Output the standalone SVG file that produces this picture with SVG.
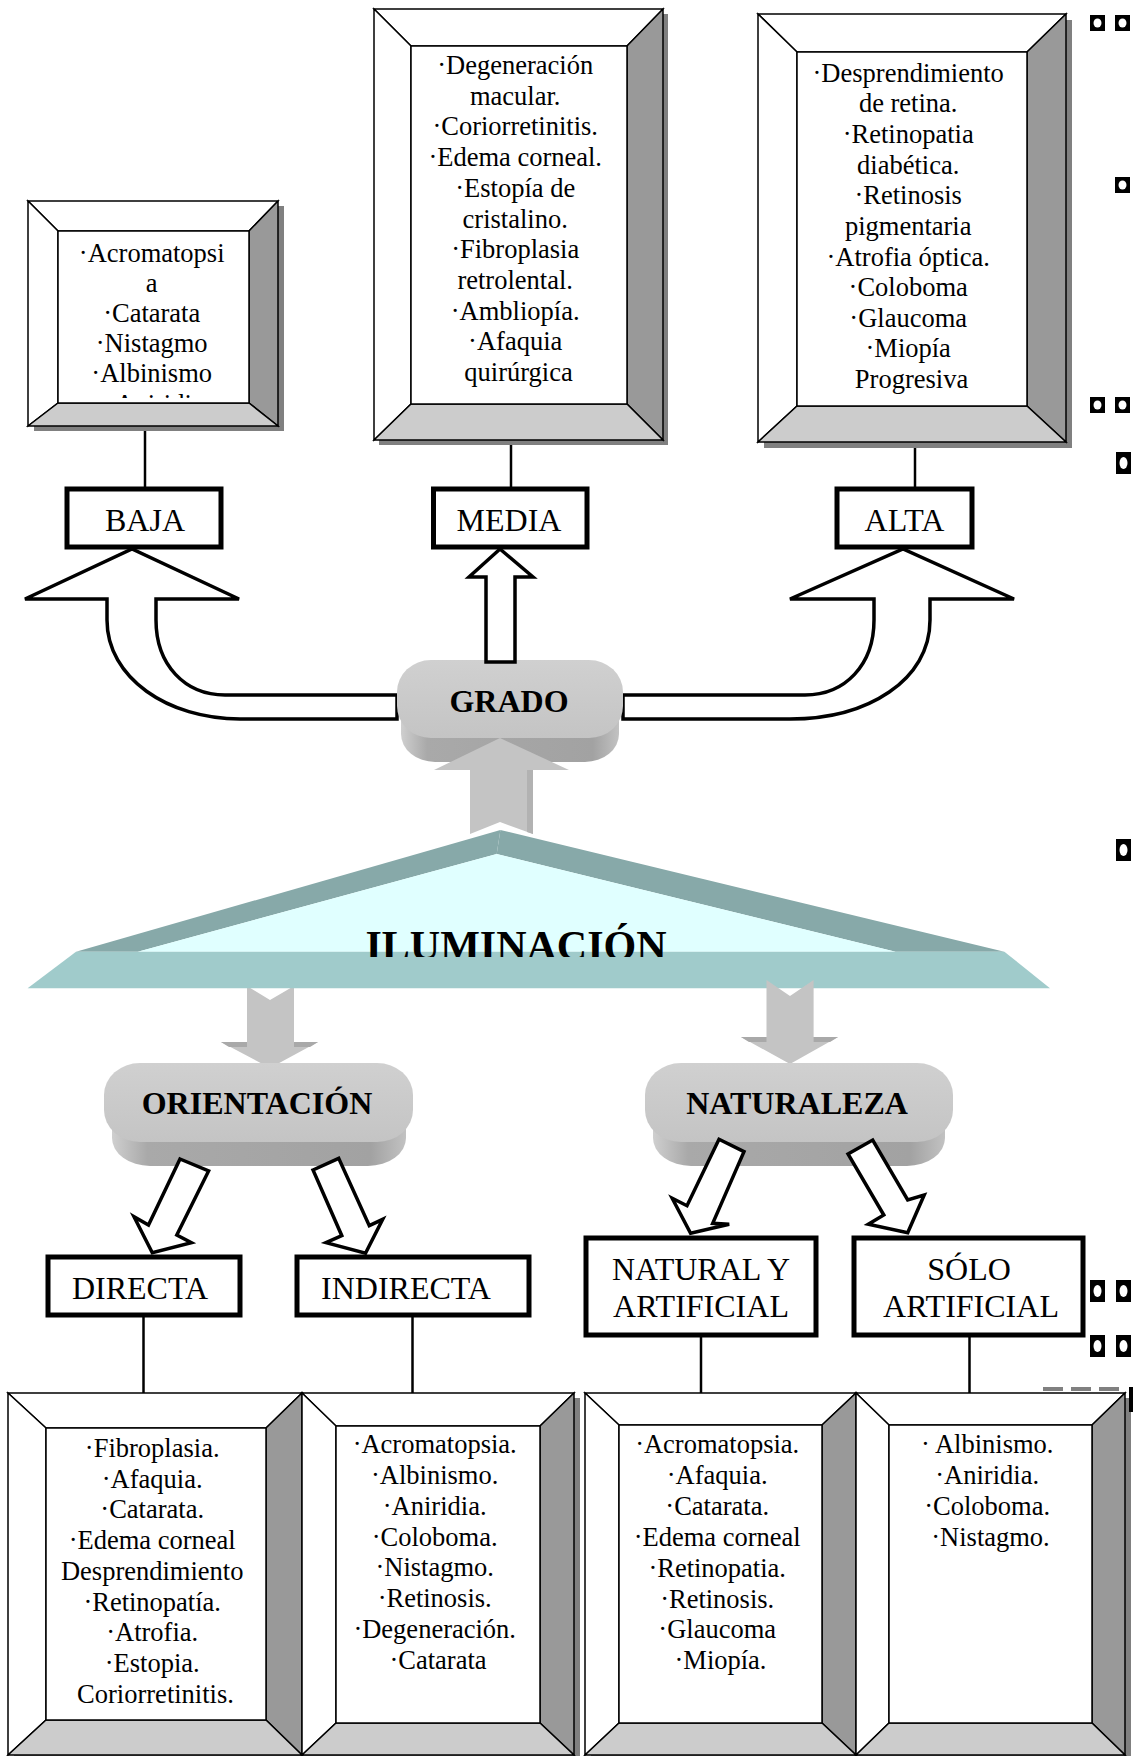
<svg xmlns="http://www.w3.org/2000/svg" xmlns:xlink="http://www.w3.org/1999/xlink" width="1134" height="1756" viewBox="0 0 1134 1756">
  <defs>
    <style>
      .edge { stroke: #000; stroke-width: 1.5; stroke-linejoin: miter; }
      .lt { fill: #ffffff; }
      .dk { fill: #999999; }
      .md { fill: #cccccc; }
      .shadow { fill: #808080; }
      .list { font-family: "Liberation Serif", "Times New Roman", serif; font-size: 26.5px; fill: #000; text-anchor: middle; }
      .label { fill: #fff; stroke: #000; stroke-width: 5; }
      .ltxt { font-family: "Liberation Serif", "Times New Roman", serif; font-size: 32px; fill: #000; text-anchor: middle; }
      .btxt { font-family: "Liberation Serif", "Times New Roman", serif; font-weight: bold; font-size: 32px; fill: #000; text-anchor: middle; }
      .line { stroke: #000; stroke-width: 2.5; fill: none; }
      .hollow { fill: #fff; stroke: #000; stroke-width: 3.5; stroke-linejoin: miter; }
      .garrow { fill: #c4c4c4; }
      .face { fill: url(#faceGrad); }
      .extr { fill: url(#extrGrad); }
    </style>
    <linearGradient id="faceGrad" x1="0" y1="0" x2="0" y2="1">
      <stop offset="0" stop-color="#d0d0d0"/>
      <stop offset="1" stop-color="#c4c4c4"/>
    </linearGradient>
    <linearGradient id="extrGrad" x1="0" y1="0" x2="1" y2="0">
      <stop offset="0" stop-color="#cfcfcf"/>
      <stop offset="0.12" stop-color="#a9a9a9"/>
      <stop offset="0.88" stop-color="#a2a2a2"/>
      <stop offset="1" stop-color="#c2c2c2"/>
    </linearGradient>
    <clipPath id="clipBaja"><rect x="58" y="231" width="191" height="167"/></clipPath>
    <clipPath id="clipIlum"><rect x="300" y="880" width="450" height="77"/></clipPath>
    <g id="glyph">
      <rect x="0" y="0" width="15" height="16" fill="#000"/>
      <ellipse cx="7.5" cy="8" rx="4" ry="4.5" fill="#fff"/>
    </g>
    <g id="glyphTall">
      <rect x="0" y="0" width="15" height="22" fill="#000"/>
      <ellipse cx="7.5" cy="11" rx="4" ry="6" fill="#fff"/>
    </g>
  </defs>

  <rect x="0" y="0" width="1134" height="1756" fill="#ffffff"/>

  <!-- connector lines between list boxes and category labels -->
  <g id="connectors">
    <line class="line" x1="145" y1="426" x2="145" y2="488"/>
    <line class="line" x1="511" y1="440" x2="511" y2="493"/>
    <line class="line" x1="915" y1="442" x2="915" y2="488"/>
    <line class="line" x1="143.5" y1="1316" x2="143.5" y2="1393"/>
    <line class="line" x1="412.5" y1="1316" x2="412.5" y2="1393"/>
    <line class="line" x1="701" y1="1336" x2="701" y2="1393"/>
    <line class="line" x1="969.5" y1="1336" x2="969.5" y2="1393"/>

    <!-- curved hollow arrows from GRADO -->
    <path class="hollow" d="M397,719 L240,719 C168,719 107,678 107,620 L107,599 L25,599 L132,549 L239,599 L156,599 L156,620 C156,665 185,695 225,695 L397,695 Z"/>
    <path class="hollow" d="M623,695 L805,695 C845,695 874,665 874,620 L874,599 L790,599 L903,549 L1014,599 L930,599 L930,620 C930,680 868,719 790,719 L623,719 Z"/>
  </g>

  <!-- GRADO button -->
  <g id="grado">
    <rect class="extr" x="401" y="690" width="218" height="72" rx="34" ry="28"/>
    <rect class="face" x="397" y="660" width="226" height="78" rx="34" ry="32"/>
    <text class="btxt" x="509" y="712">GRADO</text>
  </g>

  <g id="connectors-2">
    <!-- straight hollow arrow to MEDIA -->
    <polygon class="hollow" points="500,549 533,577 515,577 515,662 486,662 486,577 469,577"/>
    <!-- grey block arrow up from ILUMINACIÓN -->
    <polygon class="garrow" points="500,738 569,770 533,770 533,834 500,822 470,834 470,770 434,770"/>
    <polygon fill="#b2b2b2" points="527,770 533,770 533,834 527,832"/>
    <!-- grey block arrow down-left -->
    <polygon class="garrow" points="247,986 270,1000 294,986 294,1042 318,1042 270,1068 221,1042 247,1042"/>
    <polygon fill="#a9a9a9" points="221,1042 247,1042 247,1047 229,1047"/>
    <polygon fill="#a9a9a9" points="294,1042 318,1042 310,1047 294,1047"/>
  </g>

  <!-- ILUMINACIÓN beveled triangle -->
  <g id="iluminacion">
    <polygon fill="#87a9a9" points="500.4,830 76,951.7 137.8,951.7 496.7,854"/>
    <polygon fill="#87a9a9" points="500.4,830 496.7,854 895.6,951.7 1004.4,951.7"/>
    <polygon fill="#e0ffff" points="496.7,854 137.8,951.7 895.6,951.7"/>
    <polygon fill="#a0cbcb" points="76,951.7 1004.4,951.7 1050,988.3 27.6,988.3"/>
    <g clip-path="url(#clipIlum)">
      <text class="btxt" style="font-size:42px" x="516" y="960">ILUMINACIÓN</text>
    </g>
  </g>

  <g id="connectors-3">
    <!-- grey block arrow down-right -->
    <polygon class="garrow" points="766.5,980 790,996 813.6,980 813.6,1037 838,1037 790,1064 741,1037 766.5,1037"/>
    <polygon fill="#a9a9a9" points="741,1037 766.5,1037 766.5,1042 749,1042"/>
    <polygon fill="#a9a9a9" points="813.6,1037 838,1037 830,1042 813.6,1042"/>
  </g>

  <!-- ORIENTACIÓN button -->
  <g id="orientacion">
    <rect class="extr" x="112" y="1090" width="294" height="76" rx="38" ry="28"/>
    <rect class="face" x="104" y="1063" width="309" height="79" rx="36" ry="32"/>
    <text class="btxt" x="257" y="1114">ORIENTACIÓN</text>
  </g>

  <!-- NATURALEZA button -->
  <g id="naturaleza">
    <rect class="extr" x="653" y="1090" width="292" height="76" rx="38" ry="28"/>
    <rect class="face" x="645" y="1063" width="308" height="79" rx="36" ry="32"/>
    <text class="btxt" x="797" y="1114">NATURALEZA</text>
  </g>

  <!-- slanted hollow arrows to the lower labels -->
  <g id="connectors-4">
    <polygon class="hollow" points="180,1159 208.6,1171 176.8,1235 191.4,1242.7 152.3,1252.7 134,1216.7 148.5,1225"/>
    <polygon class="hollow" points="313,1170 338.7,1158.3 369.3,1225.7 382.7,1219.3 365.5,1253.3 326,1242.7 341.8,1235.7"/>
    <polygon class="hollow" points="719,1139.3 744,1151.7 712.7,1223.3 729.2,1224.3 690.6,1233.3 672.2,1198.3 687,1205.7"/>
    <polygon class="hollow" points="848,1154 872.7,1140 907.7,1200 924.2,1195 907.7,1232.7 868.3,1224.3 883.8,1215"/>
  </g>

  <!-- category labels -->
  <g id="baja">
    <rect class="label" x="67" y="489" width="154" height="58"/>
    <text class="ltxt" x="145" y="531">BAJA</text>
  </g>
  <g id="media">
    <rect class="label" x="433.5" y="489" width="153.5" height="58"/>
    <text class="ltxt" x="509" y="531">MEDIA</text>
  </g>
  <g id="alta">
    <rect class="label" x="837" y="489" width="135" height="58"/>
    <text class="ltxt" x="904.5" y="531">ALTA</text>
  </g>
  <g id="directa">
    <rect class="label" x="48" y="1257" width="192" height="58"/>
    <text class="ltxt" x="140" y="1299">DIRECTA</text>
  </g>
  <g id="indirecta">
    <rect class="label" x="297" y="1257" width="232" height="58"/>
    <text class="ltxt" x="406" y="1299">INDIRECTA</text>
  </g>
  <g id="natural-artificial">
    <rect class="label" x="586" y="1238" width="230" height="97"/>
    <text class="ltxt" x="701" y="1280">NATURAL Y</text>
    <text class="ltxt" x="701" y="1317">ARTIFICIAL</text>
  </g>
  <g id="solo-artificial">
    <rect class="label" x="854" y="1238" width="229" height="97"/>
    <text class="ltxt" x="969" y="1280">SÓLO</text>
    <text class="ltxt" x="971" y="1317">ARTIFICIAL</text>
  </g>

  <!-- list box: low degree -->
  <g id="lista-baja">
    <rect class="shadow" x="34" y="206" width="250" height="225"/>
    <polygon class="lt edge" points="28,201 278,201 249,231 58,231"/>
    <polygon class="lt edge" points="28,201 58,231 58,403 28,426"/>
    <polygon class="dk edge" points="278,201 278,426 249,403 249,231"/>
    <polygon class="md edge" points="28,426 58,403 249,403 278,426"/>
    <rect class="lt edge" x="58" y="231" width="191" height="172"/>
    <text class="list" clip-path="url(#clipBaja)">
      <tspan x="155" y="262">·Acromatopsi</tspan>
      <tspan x="155" y="292">a</tspan>
      <tspan x="155" y="322">·Catarata</tspan>
      <tspan x="155" y="352">·Nistagmo</tspan>
      <tspan x="155" y="382">·Albinismo</tspan>
      <tspan x="155" y="413">·Aniridia</tspan>
    </text>
  </g>

  <!-- list box: medium degree -->
  <g id="lista-media">
    <rect class="shadow" x="379" y="14" width="289" height="431"/>
    <polygon class="lt edge" points="374,9 663,9 627,46 411,46"/>
    <polygon class="lt edge" points="374,9 411,46 411,404 374,440"/>
    <polygon class="dk edge" points="663,9 663,440 627,404 627,46"/>
    <polygon class="md edge" points="374,440 411,404 627,404 663,440"/>
    <rect class="lt edge" x="411" y="46" width="216" height="358"/>
    <text class="list">
      <tspan x="518.5" y="74">·Degeneración</tspan>
      <tspan x="518.5" y="104.7">macular.</tspan>
      <tspan x="518.5" y="135.4">·Coriorretinitis.</tspan>
      <tspan x="518.5" y="166.1">·Edema corneal.</tspan>
      <tspan x="518.5" y="196.8">·Estopía de</tspan>
      <tspan x="518.5" y="227.5">cristalino.</tspan>
      <tspan x="518.5" y="258.2">·Fibroplasia</tspan>
      <tspan x="518.5" y="288.9">retrolental.</tspan>
      <tspan x="518.5" y="319.6">·Ambliopía.</tspan>
      <tspan x="518.5" y="350.3">·Afaquia</tspan>
      <tspan x="518.5" y="381">quirúrgica</tspan>
    </text>
  </g>

  <!-- list box: high degree -->
  <g id="lista-alta">
    <rect class="shadow" x="764" y="20" width="308" height="428"/>
    <polygon class="lt edge" points="758,14 1066,14 1027,52 797,52"/>
    <polygon class="lt edge" points="758,14 797,52 797,406 758,442"/>
    <polygon class="dk edge" points="1066,14 1066,442 1027,406 1027,52"/>
    <polygon class="md edge" points="758,442 797,406 1027,406 1066,442"/>
    <rect class="lt edge" x="797" y="52" width="230" height="354"/>
    <text class="list">
      <tspan x="911.5" y="81.7">·Desprendimiento</tspan>
      <tspan x="911.5" y="112.3">de retina.</tspan>
      <tspan x="911.5" y="143">·Retinopatia</tspan>
      <tspan x="911.5" y="173.6">diabética.</tspan>
      <tspan x="911.5" y="204.2">·Retinosis</tspan>
      <tspan x="911.5" y="234.8">pigmentaria</tspan>
      <tspan x="911.5" y="265.5">·Atrofia óptica.</tspan>
      <tspan x="911.5" y="296.1">·Coloboma</tspan>
      <tspan x="911.5" y="326.7">·Glaucoma</tspan>
      <tspan x="911.5" y="357.4">·Miopía</tspan>
      <tspan x="911.5" y="388">Progresiva</tspan>
    </text>
  </g>

  <!-- bottom list boxes -->
  <g id="lista-directa">
    <rect class="shadow" x="14" y="1398" width="294" height="362"/>
    <polygon class="lt edge" points="8,1393 302,1393 266,1428 46,1428"/>
    <polygon class="lt edge" points="8,1393 46,1428 46,1720 8,1755"/>
    <polygon class="dk edge" points="302,1393 302,1755 266,1720 266,1428"/>
    <polygon class="md edge" points="8,1755 46,1720 266,1720 302,1755"/>
    <rect class="lt edge" x="46" y="1428" width="220" height="292"/>
    <text class="list">
      <tspan x="155.5" y="1456.7">·Fibroplasia.</tspan>
      <tspan x="155.5" y="1487.5">·Afaquia.</tspan>
      <tspan x="155.5" y="1518.2">·Catarata.</tspan>
      <tspan x="155.5" y="1549">·Edema corneal</tspan>
      <tspan x="155.5" y="1579.7">Desprendimiento</tspan>
      <tspan x="155.5" y="1610.5">·Retinopatía.</tspan>
      <tspan x="155.5" y="1641.2">·Atrofia.</tspan>
      <tspan x="155.5" y="1672">·Estopia.</tspan>
      <tspan x="155.5" y="1702.7">Coriorretinitis.</tspan>
    </text>
  </g>

  <g id="lista-indirecta">
    <rect class="shadow" x="308" y="1398" width="272" height="362"/>
    <polygon class="lt edge" points="302,1393 574,1393 540,1426 336,1426"/>
    <polygon class="lt edge" points="302,1393 336,1426 336,1723 302,1755"/>
    <polygon class="dk edge" points="574,1393 574,1755 540,1723 540,1426"/>
    <polygon class="md edge" points="302,1755 336,1723 540,1723 574,1755"/>
    <rect class="lt edge" x="336" y="1426" width="204" height="297"/>
    <text class="list">
      <tspan x="438" y="1453.3">·Acromatopsia.</tspan>
      <tspan x="438" y="1484">·Albinismo.</tspan>
      <tspan x="438" y="1514.8">·Aniridia.</tspan>
      <tspan x="438" y="1545.5">·Coloboma.</tspan>
      <tspan x="438" y="1576.3">·Nistagmo.</tspan>
      <tspan x="438" y="1607">·Retinosis.</tspan>
      <tspan x="438" y="1637.8">·Degeneración.</tspan>
      <tspan x="438" y="1668.5">·Catarata</tspan>
    </text>
  </g>

  <g id="lista-natural">
    <rect class="shadow" x="591" y="1398" width="271" height="362"/>
    <polygon class="lt edge" points="585,1393 856,1393 822,1425 619,1425"/>
    <polygon class="lt edge" points="585,1393 619,1425 619,1723 585,1755"/>
    <polygon class="dk edge" points="856,1393 856,1755 822,1723 822,1425"/>
    <polygon class="md edge" points="585,1755 619,1723 822,1723 856,1755"/>
    <rect class="lt edge" x="619" y="1425" width="203" height="298"/>
    <text class="list">
      <tspan x="720.5" y="1453.3">·Acromatopsia.</tspan>
      <tspan x="720.5" y="1484.2">·Afaquia.</tspan>
      <tspan x="720.5" y="1515">·Catarata.</tspan>
      <tspan x="720.5" y="1545.9">·Edema corneal</tspan>
      <tspan x="720.5" y="1576.7">·Retinopatia.</tspan>
      <tspan x="720.5" y="1607.6">·Retinosis.</tspan>
      <tspan x="720.5" y="1638.4">·Glaucoma</tspan>
      <tspan x="720.5" y="1669.3">·Miopía.</tspan>
    </text>
  </g>

  <g id="lista-artificial">
    <rect class="shadow" x="862" y="1398" width="269" height="362"/>
    <polygon class="lt edge" points="856,1393 1125,1393 1092,1425 889,1425"/>
    <polygon class="lt edge" points="856,1393 889,1425 889,1723 856,1755"/>
    <polygon class="dk edge" points="1125,1393 1125,1755 1092,1723 1092,1425"/>
    <polygon class="md edge" points="856,1755 889,1723 1092,1723 1125,1755"/>
    <rect class="lt edge" x="889" y="1425" width="203" height="298"/>
    <text class="list">
      <tspan x="990.5" y="1453.3">· Albinismo.</tspan>
      <tspan x="990.5" y="1484.2">·Aniridia.</tspan>
      <tspan x="990.5" y="1515">·Coloboma.</tspan>
      <tspan x="990.5" y="1545.9">·Nistagmo.</tspan>
    </text>
  </g>

  <!-- bullet glyph marks along the right margin -->
  <g id="margen">
    <use xlink:href="#glyph" x="1090" y="15"/>
    <use xlink:href="#glyph" x="1115" y="15"/>
    <use xlink:href="#glyph" x="1115" y="177"/>
    <use xlink:href="#glyph" x="1090" y="397"/>
    <use xlink:href="#glyph" x="1115" y="397"/>
    <use xlink:href="#glyphTall" x="1116" y="452"/>
    <use xlink:href="#glyphTall" x="1116" y="839"/>
    <use xlink:href="#glyphTall" x="1090" y="1280"/>
    <use xlink:href="#glyphTall" x="1116" y="1280"/>
    <use xlink:href="#glyphTall" x="1090" y="1335"/>
    <use xlink:href="#glyphTall" x="1116" y="1335"/>
    <rect x="1043" y="1387" width="20" height="4" fill="#808080"/>
    <rect x="1071" y="1387" width="20" height="4" fill="#808080"/>
    <rect x="1099" y="1387" width="20" height="4" fill="#808080"/>
    <rect x="1129" y="1387" width="4" height="25" fill="#000"/>
  </g>
</svg>
